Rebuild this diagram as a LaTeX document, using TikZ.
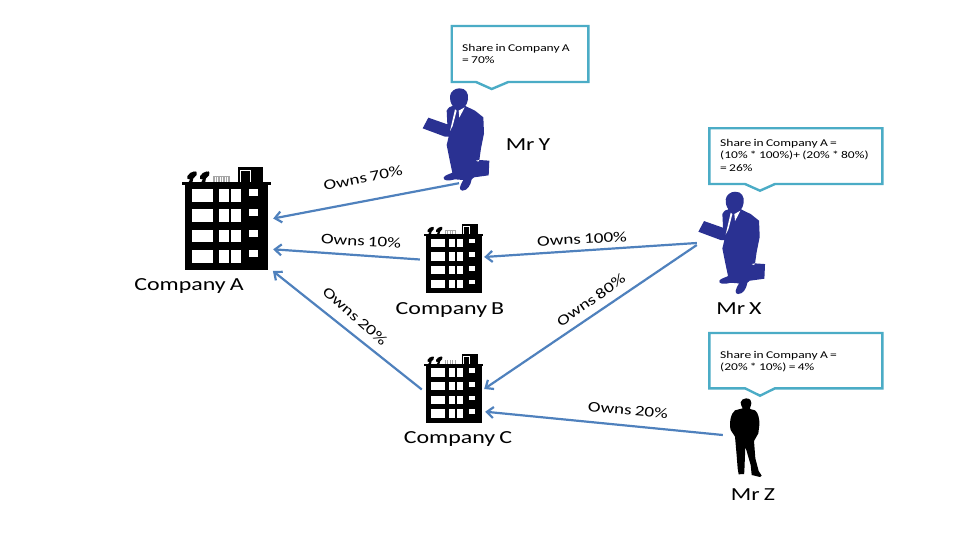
\documentclass[tikz,border=0pt]{standalone}
\usepackage{fontspec}
\usetikzlibrary{arrows.meta}
\setmainfont{Carlito}[FakeStretch=1.3,WordSpace=0.75]
\definecolor{arrowblue}{HTML}{4F81BD}
\definecolor{tealline}{HTML}{4BACC6}
\definecolor{manblue}{HTML}{2A3192}
\tikzset{
  x=1pt,y=-1pt,
  own/.style={draw=arrowblue,line width=2.2pt,-{Straight Barb[length=6.5pt,width=11pt,line width=2.2pt]}},
  ownlabel/.style={font=\fontsize{14.7}{15}\selectfont,inner sep=0pt},
  title/.style={font=\fontsize{18.4}{20}\selectfont,inner sep=0pt},
  bubble/.style={draw=tealline,line width=2.4pt,fill=white,line join=miter},
  bubbletext/.style={font=\fontsize{10.4}{12.4}\selectfont,inner sep=0pt,align=left,anchor=north west},
  hit/.style={inner sep=0pt,minimum width=#1},
  bldg/.pic={
    \fill[black] (0,-86.7) rectangle (83.3,0);
    \fill[black] (-3.3,-87.7) rectangle (85.7,-85);
    \fill[black] (53.3,-102.7) rectangle (77.7,-87);
    \draw[white,line width=.5pt] (55.6,-87.7) -- (55.6,-99.5) -- (65,-99.5) -- (65,-87.7);
    \fill[gray!70] (28.3,-94.3) rectangle (45,-87.7);
    \foreach \u in {30,32.5,35,37.5,40,42.5}{\draw[white,line width=.35pt] (\u,-93) -- (\u,-87.7);}
    \foreach \u in {0,12.7}{
      \begin{scope}[shift={(\u,0)}]
        \fill[black,rotate around={35:(7,-94.5)}] (7,-94.5) ellipse (5.6 and 3.1);
        \fill[black] (3.5,-87.7) -- (6.5,-93) -- (8.5,-93) -- (7.5,-87.7) -- cycle;
        \draw[black,line width=.7pt] (7,-94.5) -- (11,-98.5);
      \end{scope}}
    \foreach \a/\b in {-81.3/-68.3,-61/-48.3,-40.3/-27.7,-20/-7.3}{
      \fill[white] (7.3,\a) rectangle (28.3,\b);
      \fill[white] (34.3,\a) rectangle (43.7,\b);
      \fill[white] (46.3,\a) rectangle (55.7,\b);}
    \foreach \a/\b in {-81.3/-74.3,-60.7/-53.7,-40.3/-33.3,-20/-13}{
      \fill[white] (64,\a) rectangle (72.7,\b);}
  },
  suitman/.pic={
    \fill[manblue] (178,205) .. controls (198,204) and (206,220) .. (204,238)
      .. controls (203,248) and (198,255) .. (196,258)
      -- (225,272) -- (250,292) -- (252,340) -- (243,385) -- (238,420)
      -- (268,422) -- (266,466) -- (222,472) -- (215,478)
      .. controls (212,495) and (203,512) .. (187,512)
      .. controls (176,510) and (178,500) .. (190,480)
      -- (165,478) .. controls (145,484) and (128,482) .. (131,472)
      .. controls (135,465) and (150,462) .. (157,458)
      -- (150,425) -- (140,375) -- (146,350)
      -- (135,350) -- (68,325) -- (85,293) -- (142,313)
      -- (140,272) .. controls (145,262) and (152,258) .. (158,258)
      .. controls (152,248) and (148,238) .. (150,228)
      .. controls (152,214) and (165,205) .. (178,205) -- cycle;
    \fill[white] (165,268) -- (150,333) -- (158,318) -- (170,272) -- cycle;
    \fill[white] (176,272) -- (194,262) -- (178,293) -- cycle;
    \fill[white] (228,422) -- (238,420) -- (235,425) -- cycle;
  },
  blackman/.pic={
    \fill[black] (168,220) .. controls (180,220) and (186,228) .. (184,234)
      .. controls (183,245) and (178,250) .. (180,252)
      -- (195,256) .. controls (205,262) and (209,285) .. (208,300)
      -- (205,325) -- (192,348) -- (196,400) -- (206,438) -- (215,452) -- (210,456)
      -- (185,450) -- (182,420) -- (166,365) -- (163,440) -- (162,447) -- (146,448)
      -- (143,430) -- (139,380) -- (135,335) -- (122,315)
      .. controls (117,295) and (122,265) .. (135,256)
      -- (158,250) .. controls (155,245) and (152,238) .. (152,232)
      .. controls (153,226) and (160,220) .. (168,220) -- cycle;
  },
}
\begin{document}
\begin{tikzpicture}
\useasboundingbox (0,0) rectangle (960,540);
\fill[white] (0,0) rectangle (960,540);

% invisible hit boxes that the connectors run between
\node[hit=91pt,minimum height=103pt] (compA) at (227.5,218.5) {};
\node[hit=64pt,minimum height=69pt]  (compB) at (452,258.5) {};
\node[hit=64pt,minimum height=69pt]  (compC) at (453,387.5) {};
\node[hit=72pt,minimum height=100pt] (manY)  at (459,140) {};
\node[hit=72pt,minimum height=100pt] (manX)  at (733,243) {};
\node[hit=40pt,minimum height=80pt]  (manZ)  at (743,436) {};

\pic at (185,270) {bldg};
\pic[scale=.67] at (426,293) {bldg};
\pic[scale=.67] at (426,422.7) {bldg};
\pic[scale=1/3] at (400,20) {suitman};
\pic[scale=1/3] at (675.7,123.4) {suitman};
\pic[scale=1/3] at (690,325) {blackman};

% connectors
\draw[own] ([shift={(0,-7)}]manY.south) -- ([shift={(0,0)}]compA.east);
\draw[own] ([shift={(0,1)}]compB.west) -- ([shift={(0,30.8)}]compA.east);
\draw[own] ([shift={(1,2)}]compC.west) -- ([shift={(-.3,52.5)}]compA.east);
\draw[own] ([shift={(0,0)}]manX.west) -- ([shift={(0,-1.5)}]compB.east);
\draw[own] ([shift={(0,2)}]manX.west) -- ([shift={(-1,1.5)}]compC.east);
\draw[own] ([shift={(0,-1)}]manZ.west) -- ([shift={(0,24.2)}]compC.east);

% connector labels
\node[ownlabel,rotate=11] (l1) at (363,178) {Owns 70\%};
\node[ownlabel,rotate=-3] (l2) at (361,241) {Owns 10\%};
\node[ownlabel,rotate=-41] (l3) at (355,316) {Owns 20\%};
\node[ownlabel,rotate=3] (l4) at (582,239) {Owns 100\%};
\node[ownlabel,rotate=35] (l5) at (591,300) {Owns 80\%};
\node[ownlabel,rotate=-5] (l6) at (628,410) {Owns 20\%};

% names
\node[title] (tA) at (189,286) {Company A};
\node[title] (tB) at (450,310) {Company B};
\node[title] (tC) at (458,439) {Company C};
\node[title] (tY) at (528,145) {Mr Y};
\node[title] (tX) at (739,309) {Mr X};
\node[title] (tZ) at (753,495) {Mr Z};

% callouts
\draw[bubble] (451.7,26) -- (588.3,26) -- (588.3,82) -- (508.3,82) -- (491.7,89) -- (476,82) -- (451.7,82) -- cycle;
\node[bubbletext] (bY) at (462,44) {Share in Company A\\= 70\%};
\draw[bubble] (709.3,128.3) -- (882.3,128.3) -- (882.3,184) -- (775,184) -- (760,190.7) -- (745,184) -- (709.3,184) -- cycle;
\node[bubbletext] (bX) at (720,139) {Share in Company A =\\(10\% * 100\%)+ (20\% * 80\%)\\= 26\%};
\draw[bubble] (709.3,333) -- (882.3,333) -- (882.3,388.3) -- (775,388.3) -- (760,395.7) -- (745,388.3) -- (709.3,388.3) -- cycle;
\node[bubbletext] (bZ) at (720,351) {Share in Company A =\\(20\% * 10\%) = 4\%};
\end{tikzpicture}
\end{document}
